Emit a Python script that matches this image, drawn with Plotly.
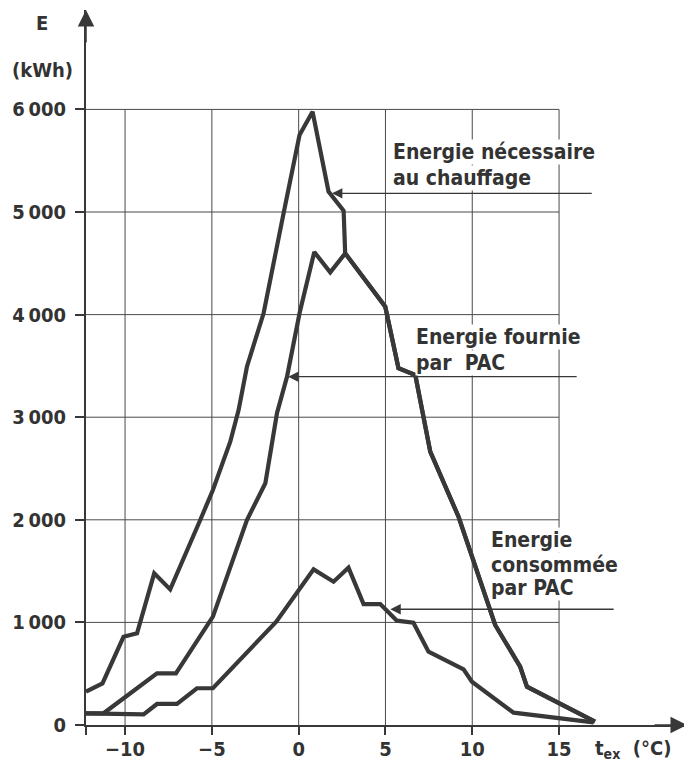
import plotly.graph_objects as go

# ---- data ----
x_need = [-12.25, -11.30, -10.09, -9.31, -8.32, -7.40, -5.67, -4.94, -3.94, -3.46, -2.98,
          -2.02, -0.87, 0.05, 0.80, 1.72, 2.59, 2.68, 4.99, 5.75, 6.72, 7.58, 9.21,
          11.32, 12.76, 13.15, 17.07]
e_need = [325, 406, 860, 894, 1478, 1322, 1998, 2290, 2761, 3070, 3492,
          4013, 4987, 5750, 5978, 5200, 5013, 4597, 4077, 3477, 3411, 2664, 2030,
          975, 568, 373, 32]

x_fournie = [-12.25, -11.24, -8.16, -7.07, -4.94, -2.98, -1.92, -1.25, -0.67, 0.05, 0.90,
             1.82, 2.68, 4.99, 5.75, 6.72, 7.58, 9.21, 11.32, 12.76, 13.15, 17.07]
e_fournie = [114, 114, 504, 504, 1056, 1998, 2356, 3038, 3395, 4013, 4610,
             4413, 4597, 4077, 3477, 3411, 2664, 2030, 975, 568, 373, 32]

x_conso = [-12.25, -8.93, -8.16, -7.01, -5.86, -4.94, -1.29, 0.05, 0.86, 2.01, 2.87,
           3.74, 4.70, 5.66, 6.61, 7.48, 9.50, 9.98, 12.38, 16.99]
e_conso = [114, 104, 205, 205, 358, 358, 1007, 1332, 1517, 1397, 1533,
           1179, 1179, 1017, 997, 714, 543, 422, 120, 26]

x_ticks = [-12.25, -10, -5, 0, 5, 10, 15]
x_tick_labels = ["", "\u221210", "\u22125", "0", "5", "10", "15"]
y_ticks = [0, 1000, 2000, 3000, 4000, 5000, 6000]
y_tick_labels = ["0", "1\u2009000", "2\u2009000", "3\u2009000", "4\u2009000", "5\u2009000", "6\u2009000"]

X_MIN, X_MAX = -12.25, 22.37
Y_MIN, Y_MAX = 0, 6969
GRID_X_END = 15
GRID_Y_END = 6000

INK = "#383838"
TXT = "#333333"
FONT = "DejaVu Sans Condensed, DejaVu Sans"

fig = go.Figure()
for xs, ys in [(x_need, e_need), (x_fournie, e_fournie), (x_conso, e_conso)]:
    fig.add_trace(go.Scatter(x=xs, y=ys, mode="lines",
                             line=dict(color=INK, width=4.2),
                             hoverinfo="skip", showlegend=False))

shapes = []
for xv in x_ticks[1:]:
    shapes.append(dict(type="line", xref="x", yref="y", x0=xv, x1=xv, y0=0, y1=GRID_Y_END,
                       line=dict(color="#4a4a4a", width=1), layer="below"))
for yv in y_ticks[1:]:
    shapes.append(dict(type="line", xref="x", yref="y", x0=X_MIN, x1=GRID_X_END, y0=yv, y1=yv,
                       line=dict(color="#4a4a4a", width=1), layer="below"))

annotations = []
# axis arrow heads
annotations.append(dict(x=X_MAX, y=0, xref="x", yref="y", ax=-34, ay=0, text="",
                        showarrow=True, arrowhead=2, arrowsize=2.2, arrowwidth=1.5,
                        arrowcolor=INK, standoff=0))
annotations.append(dict(x=X_MIN, y=Y_MAX, xref="x", yref="y", ax=0, ay=34, text="",
                        showarrow=True, arrowhead=2, arrowsize=2.2, arrowwidth=1.5,
                        arrowcolor=INK, standoff=0))

# pointer arrows for labels
for tip_x, tail_x, yv in [(1.92, 16.97, 5182), (-0.60, 16.10, 3395), (5.28, 18.23, 1128)]:
    annotations.append(dict(x=tip_x, y=yv, xref="x", yref="y", axref="x", ayref="y",
                            ax=tail_x, ay=yv, text="", showarrow=True, arrowhead=2,
                            arrowsize=1.6, arrowwidth=1.3, arrowcolor=INK, standoff=0))

label_lines = [
    ("Energie nécessaire", 5.37, 5587),
    ("au chauffage", 5.37, 5330),
    ("Energie fournie", 6.72, 3784),
    ("par  PAC", 6.72, 3530),
    ("Energie", 11.04, 1803),
    ("consommée", 11.04, 1559),
    ("par PAC", 11.04, 1332),
]
for txt, xv, yv in label_lines:
    annotations.append(dict(x=xv, y=yv, xref="x", yref="y", text="<b>%s</b>" % txt,
                            showarrow=False,
                            xanchor="left", yanchor="middle", bgcolor="white", borderpad=0,
                            font=dict(family=FONT, size=21, color=TXT)))

annotations.append(dict(x=-0.0724, y=0.9825, xref="paper", yref="paper", text="<b>E</b>",
                        showarrow=False, xanchor="center", yanchor="middle",
                        font=dict(family=FONT, size=20, color=TXT)))
annotations.append(dict(x=-0.0724, y=0.9154, xref="paper", yref="paper", text="<b>(kWh)</b>",
                        showarrow=False, xanchor="center", yanchor="middle",
                        font=dict(family=FONT, size=20, color=TXT)))
annotations.append(dict(x=16.97, y=-0.034, xref="x", yref="paper",
                        text="<b>t<sub>ex</sub>  (°C)</b>", showarrow=False,
                        xanchor="left", yanchor="middle",
                        font=dict(family=FONT, size=20, color=TXT)))

# the page places the figure 8 px in from the top-left corner
fig.update_layout(
    template="none",
    width=684, height=755,
    margin=dict(l=78, r=5, t=2, b=38, autoexpand=False),
    paper_bgcolor="white", plot_bgcolor="white",
    shapes=shapes, annotations=annotations,
    xaxis=dict(range=[X_MIN, X_MAX], showgrid=False, zeroline=False, automargin=False,
               showline=True, linecolor=INK, linewidth=2,
               ticks="outside", ticklen=8, tickwidth=1.5, tickcolor=INK,
               tickvals=x_ticks, ticktext=x_tick_labels, ticklabelstandoff=-3,
               tickfont=dict(family=FONT, size=20, color=TXT, weight="bold"), fixedrange=True),
    yaxis=dict(range=[Y_MIN, Y_MAX], showgrid=False, zeroline=False, automargin=False,
               showline=True, linecolor=INK, linewidth=2,
               ticks="outside", ticklen=9, tickwidth=1.5, tickcolor=INK,
               tickvals=y_ticks, ticktext=y_tick_labels, ticklabelstandoff=5,
               tickfont=dict(family=FONT, size=20, color=TXT, weight="bold"), fixedrange=True),
)

fig.write_html("out.html")
